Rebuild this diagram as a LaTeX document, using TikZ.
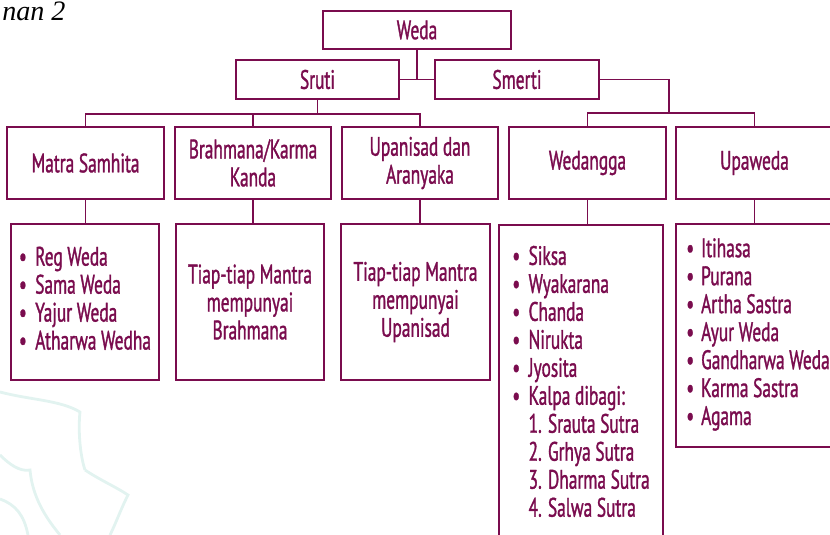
\documentclass[tikz,border=0pt]{standalone}
\usepackage{fontspec}
\setmainfont[FakeStretch=0.65, FakeBold=1.2]{PT Sans}
\newfontfamily\pagefont{Liberation Serif}
\usepackage{xcolor}
\usepackage{tikz}
\usetikzlibrary{positioning}
\definecolor{wedared}{RGB}{122, 12, 78}
\definecolor{lotusteal}{RGB}{226, 243, 240}

\begin{document}
\begin{tikzpicture}[
        box/.style={draw=wedared, line width=1.3pt, text=wedared, align=center,
            font=\fontsize{19}{19.9}\selectfont, inner sep=0pt},
        listbox/.style={box, minimum width=3.7cm},
        link/.style={draw=wedared, line width=1.3pt}]
            \useasboundingbox (0,0) rectangle (20.75,13.375);

            % faint lotus in the corner
            \draw[lotusteal, line width=2pt] (0,3.575) .. controls (0.75,3.375) and (1.5,3.375) .. (2,3.075)
                .. controls (1.95,2.625) and (2,2.0) .. (2.125,1.625);
            \draw[lotusteal, line width=2pt] (0,2.0) .. controls (0.375,1.625) and (0.6,1.6) .. (0.75,1.625)
                .. controls (0.8,1.1) and (1.0,0.6) .. (1.5,0);
            \draw[lotusteal, line width=2pt] (2.125,1.625) .. controls (2.5,1.375) and (2.9,1.2) .. (3.2,1.0)
                .. controls (3.0,0.6) and (2.9,0.3) .. (2.75,0);
            \draw[lotusteal, line width=2pt] (0,0.9) .. controls (0.4,0.75) and (0.6,0.5) .. (0.7,0);

            % page caption in the corner
            \node[anchor=base west, inner sep=0pt, font=\pagefont\itshape\fontsize{20}{24}\selectfont]
                (caption) at (0.05,12.86) {nan 2};

            % top levels
            \node[box, minimum width=4.7cm, minimum height=0.95cm] (weda) at (10.425,12.625) {Weda};
            \node[box, minimum width=4.075cm, minimum height=0.975cm] (sruti) at (7.9375,11.3875) {Sruti};
            \node[box, minimum width=4.1cm, minimum height=0.975cm] (smerti) at (12.925,11.3875) {Smerti};

            % five groups
            \node[box, minimum width=3.925cm, minimum height=1.8cm] (matra) at (2.1375,9.3) {Matra Samhita};
            \node[box, minimum width=3.9cm, minimum height=1.8cm] (brahmana) at (6.325,9.3) {Brahmana/Karma\\Kanda};
            \node[box, minimum width=3.9cm, minimum height=1.8cm] (upanisad) at (10.5,9.3) {Upanisad dan\\Aranyaka};
            \node[box, minimum width=3.925cm, minimum height=1.8cm] (wedangga) at (14.6875,9.3) {Wedangga};
            \node[box, minimum width=3.925cm, minimum height=1.8cm] (upaweda) at (18.8625,9.3) {Upaweda};

            % contents of each group
            \node[listbox, minimum height=3.9cm] (vedas) at (2.125,5.825) {%
                \begin{tabular}{@{}l@{\hspace{6pt}}l@{}}
                    \textbullet & Reg Weda\\
                    \textbullet & Sama Weda\\
                    \textbullet & Yajur Weda\\
                    \textbullet & Atharwa Wedha
                \end{tabular}};
            \node[listbox, minimum height=3.9cm] (brahtext) at (6.25,5.825) {Tiap-tiap Mantra\\mempunyai\\Brahmana};
            \node[listbox, minimum width=3.725cm, minimum height=3.9cm] (upatext) at (10.3875,5.825) {Tiap-tiap Mantra\\mempunyai\\Upanisad};
            \node[box, anchor=north, minimum width=4.1cm, inner ysep=0.51cm] (wedlist) at (14.525,7.775) {%
                \begin{tabular}{@{}l@{\hspace{6pt}}l@{}}
                    \textbullet & Siksa\\
                    \textbullet & Wyakarana\\
                    \textbullet & Chanda\\
                    \textbullet & Nirukta\\
                    \textbullet & Jyosita\\
                    \textbullet & Kalpa dibagi:\\
                    & 1. Srauta Sutra\\
                    & 2. Grhya Sutra\\
                    & 3. Dharma Sutra\\
                    & 4. Salwa Sutra
                \end{tabular}};
            \node[box, minimum width=4.1cm, minimum height=5.575cm] (uplist) at (18.95,4.9875) {%
                \begin{tabular}{@{}l@{\hspace{5pt}}l@{}}
                    \textbullet & Itihasa\\
                    \textbullet & Purana\\
                    \textbullet & Artha Sastra\\
                    \textbullet & Ayur Weda\\
                    \textbullet & Gandharwa Weda\\
                    \textbullet & Karma Sastra\\
                    \textbullet & Agama
                \end{tabular}};

            % connectors
            \coordinate (busl) at ([yshift=-0.35cm]sruti.south);
            \coordinate (busr) at (16.725,10.55);
            \draw[link] (weda.south) -- (weda.south |- sruti.east);
            \draw[link] (sruti.east) -- (smerti.west);
            \draw[link] (sruti.south) -- (busl);
            \draw[link] (matra.north) |- (upanisad.north |- busl) -- (upanisad.north);
            \draw[link] (brahmana.north) -- (brahmana.north |- busl);
            \draw[link] (smerti.east) -| (busr);
            \draw[link] (wedangga.north) |- (busr) -| (upaweda.north);
            \foreach \grp/\sub in {matra/vedas, brahmana/brahtext, upanisad/upatext, wedangga/wedlist, upaweda/uplist}
                \draw[link] (\grp.south) -- (\grp.south |- \sub.north);
        \end{tikzpicture}
\end{document}
